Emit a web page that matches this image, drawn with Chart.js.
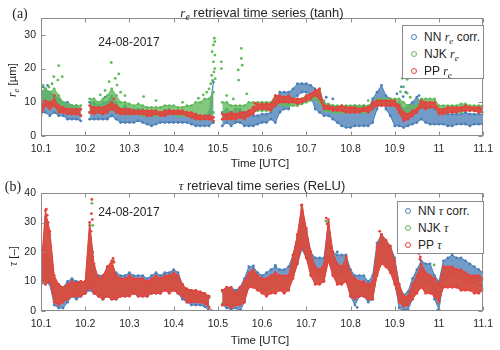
<!DOCTYPE html>
<html><head><meta charset="utf-8">
<script src="https://cdn.jsdelivr.net/npm/chart.js@4.4.0/dist/chart.umd.min.js"></script>
<style>
html,body{margin:0;padding:0;background:#fff;}
#wrap{position:relative;width:500px;height:350px;overflow:hidden;font-family:'Liberation Sans',Arial,sans-serif;color:#262626;}
canvas{position:absolute;left:0;}
.t{position:absolute;white-space:nowrap;line-height:1;transform:translate(-50%,-50%);}
.m{font-family:'Liberation Serif','Times New Roman',serif;font-style:italic;}
.sub{font-size:0.75em;position:relative;top:0.3em;}
.pl{font-family:'Liberation Serif','Times New Roman',serif;font-size:14px;}
.leg{position:absolute;border:1px solid #8c8c8c;background:#fff;}
.row{position:absolute;white-space:nowrap;font-size:12px;line-height:1;transform:translateY(-50%);}
.dot{position:absolute;width:4px;height:4px;border:1px solid;border-radius:50%;transform:translate(-50%,-50%);}
</style></head>
<body><div id="wrap">
<canvas id="ca" width="500" height="175" style="top:0"></canvas>
<canvas id="cb" width="500" height="175" style="top:175px"></canvas>

<div class="t pl" style="left:20px;top:14px">(a)</div>
<div class="t" style="left:262px;top:12px;font-size:13px"><span class="m">r<span class="sub">e</span></span> retrieval time series (tanh)</div>
<div class="t" style="left:129px;top:42px;font-size:12px">24-08-2017</div>
<div class="t" style="left:260px;top:164px;font-size:11.5px">Time [UTC]</div>
<div class="t" style="left:13px;top:80px;font-size:11.5px;transform:translate(-50%,-50%) rotate(-90deg)"><span class="m">r<span class="sub">e</span></span> [µm]</div>
<div class="leg" style="left:402px;top:25px;width:80px;height:52px">
  <span class="dot" style="left:11px;top:11px;border-color:#4a7fb8"></span><span class="row" style="left:21px;top:11px">NN <span class="m">r<span class="sub">e</span></span> corr.</span>
  <span class="dot" style="left:11px;top:28px;border-color:#5fba58"></span><span class="row" style="left:21px;top:28px">NJK <span class="m">r<span class="sub">e</span></span></span>
  <span class="dot" style="left:11px;top:45px;border-color:#e8403e"></span><span class="row" style="left:21px;top:45px">PP <span class="m">r<span class="sub">e</span></span></span>
</div>

<div class="t pl" style="left:13px;top:187px">(b)</div>
<div class="t" style="left:262px;top:185px;font-size:13px"><span class="m">τ</span> retrieval time series (ReLU)</div>
<div class="t" style="left:129px;top:212px;font-size:12px">24-08-2017</div>
<div class="t" style="left:260px;top:341px;font-size:11.5px">Time [UTC]</div>
<div class="t" style="left:14px;top:256px;font-size:11.5px;transform:translate(-50%,-50%) rotate(-90deg)"><span class="m">τ</span> [–]</div>
<div class="leg" style="left:397px;top:201px;width:85px;height:51px">
  <span class="dot" style="left:10px;top:9px;border-color:#4a7fb8"></span><span class="row" style="left:20px;top:9px">NN <span class="m">τ</span> corr.</span>
  <span class="dot" style="left:10px;top:26px;border-color:#5fba58"></span><span class="row" style="left:20px;top:26px">NJK <span class="m">τ</span></span>
  <span class="dot" style="left:10px;top:43px;border-color:#e8403e"></span><span class="row" style="left:20px;top:43px">PP <span class="m">τ</span></span>
</div>
</div>
<script>
// ---- data ----
const times = [10.10,10.11,10.12,10.13,10.14,10.15,10.16,10.17,10.18,10.19,
10.20,10.21,10.22,10.23,10.24,10.25,10.26,10.27,10.28,10.29,
10.30,10.31,10.32,10.33,10.34,10.35,10.36,10.37,10.38,10.39,
10.40,10.41,10.42,10.43,10.44,10.45,10.46,10.47,10.48,10.49,
10.50,10.51,10.52,10.53,10.54,10.55,10.56,10.57,10.58,10.59,
10.60,10.61,10.62,10.63,10.64,10.65,10.66,10.67,10.68,10.69,
10.70,10.71,10.72,10.73,10.74,10.75,10.76,10.77,10.78,10.79,
10.80,10.81,10.82,10.83,10.84,10.85,10.86,10.87,10.88,10.89,
10.90,10.91,10.92,10.93,10.94,10.95,10.96,10.97,10.98,10.99,
11.00,11.01,11.02,11.03,11.04,11.05,11.06,11.07,11.08,11.09,11.10];
const xTicks = [10.1,10.2,10.3,10.4,10.5,10.6,10.7,10.8,10.9,11,11.1];
const reTicks = [0,10,20,30];
const tauTicks = [0,10,20,30,40];

// panel (a): r_e cloud lower / upper edges
const reNNlo = [7,7,6,7,6,6,5,5,5,4.5, null,5,5,5,5,5,6,5,4,4, 4,4,4.5,4,3.5,3,3.5,4,4,4,
 4,4,4,4,3.5,3,3,3,3,4, null,3,4,3,4,4,3,3,3,3.5, 4,4,5,4,7,8,8,11,12,13,
 13,12,8,7,6,6,5,4,3,2.5, 2.5,3,3,3,3,4,8,11,8,6, 3,3,2.5,3,3.5,4,5,4,3.5,3.5,
 3.5,3.5,3,3,3.5,3.5,3.5,3,3.5,3.5,3.5];
const reNNhi = [13,14,13,12,11,10,10,9,9,8, null,10,10,9,10,10,12,10,8,9, 8,8,8,8,7,7,7,7,7.5,8,
 7,7,7,7,6,6,6,6,7,16, null,7,8,7,8,8,7,7,6,6, 6.5,6.5,7,10,13,13,13,14,15.5,15.5,
 15.5,15,14,12,10,9,9,8.5,8,8, 8,9,8.5,9,8,11,13,15,12,11, 9,10,8,9,10,11.5,10,9,8.5,8,
 7,7,6.5,6.5,6.5,6.5,7,6.5,6.5,6.5,6.5];
const reNJKlo = [8,9,8,9,7,7,7,6.5,6.5,6, null,7,7,7,7,7,8,7,7,6.5, 6.5,6.5,6.5,6,6,6,6,6,6.5,6.5,
 6.5,6,6,6,5.5,5,5,5,5,7, null,5,5,5,5,5.5,5,6,7,7.5, 7.5,7.5,7.5,9,9.5,9,9,9,9,9.5,
 10,10.5,11,10,7.5,7.5,7,7,7,7, 7,7,7,7,7,8,9,9,9,9, 9,7,6,6,6.5,7,8.5,8.5,8.5,8.5,
 6.5,6.5,7,7,7,7,7.5,7.5,7.5,7,7];
const reNJKhi = [13,14,13,14,12,10,9.5,9,9,9, null,11,11,10,11,12,14,12,10,10, 9.5,9,9.5,9,8.5,8.5,8.5,8.5,9,9,
 9,8.5,8.5,9,9,10,10,11,11,13, null,10,10,9,9,9,9,10,10,10, 10,10,10,12,12,11.5,11.5,11,11,11,
 12,12.5,13,14,9.5,9.5,9,9,9,9, 9,9,9,9,9,10,11,11,11,11, 11,11,10,9,9,9,11,11,11,11,
 9,9,9,9,9,9.5,9.5,9,9,9,9];
const rePPlo = [6,9,8,9,7,7,6.5,6.5,6.5,6, null,7,6.5,7,6.5,7,8,7,6.5,6.5, 6.5,6.5,6.5,6.5,6,6,6.5,6,6,6.5,
 6.5,6.5,6.5,6,5.5,5,5,5,5,4.5, null,5,5,5,5,5.5,5,6,6.5,8, 8,8,7.5,9,10,10,10,10,9.5,10,
 10.5,11,12,11,8,8,7.5,7.5,7.5,7, 7,7,7,7.5,7,8,9,9,9,9, 9,7,4.5,5,6,7,8.5,8,8.5,8.5,
 6.5,6.5,7,7,7,7.5,7.5,7.5,7.5,7,7];
const rePPhi = [10,10.5,10,11,9,8.5,8,8,8,8, null,9,8.5,8.5,8.5,9,10,9,8,8, 8,7.5,7.5,7.5,7.5,7.5,7.5,7,7.5,7.5,
 7.5,7.5,7.5,7,7,6.5,6,6,6,5.5, null,6.5,6.5,7,6.5,7,7,7.5,8.5,9.5, 9.5,9.5,9.5,12,12,11.5,12,11,11,11,
 12,12.5,13.5,14,9,9,8.5,8.5,9,8.5, 8.5,8.5,8,8.5,8.5,10,10.5,10.5,10.5,10.5, 10.5,9,7,6.5,7.5,8,10.5,10,10,10,
 8,8,8.5,8.5,8.5,8.5,9,8.5,8.5,8.5,8.5];
// scattered single points [time, value]
const reNNout = [[10.105,14.5],[10.115,15],[10.245,11.5],[10.27,12],[10.6,9],[10.635,11],[10.745,11.5],[10.76,11],
 [10.905,12.5],[10.915,14.6],[10.919,11.7],[10.925,13],[10.955,12]];
const reNJKout = [[10.105,15],[10.118,14.5],[10.125,15.5],[10.129,17.6],[10.138,16.6],[10.14,20.9],[10.148,17.6],
 [10.234,12.2],[10.245,13.5],[10.254,16.1],[10.259,21.8],[10.268,17.1],[10.272,15.1],[10.276,18.4],[10.28,13],[10.29,12],
 [10.332,11.7],[10.36,10.5],[10.42,10],[10.456,11.2],[10.467,12.2],[10.475,13],[10.48,14],[10.484,15.5],[10.486,18],[10.487,25],
 [10.488,16.5],[10.49,22],[10.49,27],[10.491,19],[10.492,29],[10.493,28],[10.493,24],[10.493,20],[10.494,17],[10.508,22],[10.508,20],[10.52,12],[10.535,11],
 [10.546,19.6],[10.547,16.6],[10.553,26],[10.553,23],[10.555,21],[10.565,12.5],[10.74,10.5],[10.84,10.5],
 [10.913,13.1],[10.917,17.1],[10.92,14.6],[10.928,12.7],[10.928,16.8],[10.935,11.5],[10.95,10.5]];
const rePPout = [[10.13,12],[10.265,11],[10.584,9.7]];

// panel (b): tau cloud lower / upper edges
const tauNNlo = [9,10,9,2,1,1,3,5,4,5, 6,7,6,5,4,5,4,4,5,5, 6,6,5,5,5,6,6,6,7,7,
 7,6,4,3,2,2,2,1.5,0,null, null,2,1,0.5,1,0,3,9,9,8, 7,7,8,8,8,8,9,12,16,21,
 18,14,13,12,12,17,13,12,12,11, 5,2,5,5,3,4,13,17,16,14, 10,1,0,0.5,4,8,10,9,9,4,
 0.5,10,11,12,11,11,10,9,9,9,8];
const tauNNhi = [13,20,17,11,9,8,10,11,10,10, 10,22,13,12,12,13,13,13,12,12, 13,12,12,12,11,12,13,12,13,13,
 14,13,9,7,6.5,6,6,5.5,4.5,null, null,7,8,8,7,8,11,15,15,13, 12,13,14,15,14,14,15,19,25,34,
 27,20,18,18,18,30,20,19,19,19, 14,12,12,12,10,12,23,26,24,22, 18,9,5.5,6.5,11,14,17,16,16,12,
 10,17,18,19,18,18,17,16,15,14,13];
const tauNJKlo = [10,10,11,4,3,3.5,4,5,5,5.5, 6,9,7,5.5,4.5,5.5,4.5,4.5,5.5,5.5, 5.5,6.5,5.5,5.5,5.5,6.5,6.5,6.5,7.5,6.5,
 7.5,6.5,5.5,3.5,3.5,3.5,3.5,3,1.5,null, null,2.5,2.5,1.5,2.5,2.5,3.5,8.5,8.5,7.5, 6.5,5.5,6.5,6.5,7.5,6.5,7.5,11.5,16.5,22.5,
 18.5,12.5,9.5,9.5,10.5,17.5,12.5,9.5,9.5,10.5, 5.5,4.5,5.5,5.5,4.5,4.5,12.5,16.5,15.5,13.5, 9.5,3.5,2,2.5,4.5,6.5,8.5,6.5,6.5,5.5,
 3.5,8.5,8.5,8.5,8.5,7.5,7.5,7.5,6.5,6.5,7.5];
const tauNJKhi = [13,32,26,11,9,8,9,9.5,9,9.5, 9.5,29,15,10.5,11.5,14.5,16.5,11.5,10.5,10.5, 11.5,10.5,10.5,10.5,9.5,10.5,11.5,10.5,11.5,11.5,
 12.5,11.5,9,7.5,7,7,6.5,6,5,null, null,6.5,7.5,7.5,6,7.5,9.5,12.5,13.5,11.5, 10.5,10.5,11.5,12.5,11.5,11.5,11.5,18.5,25.5,35,
 27.5,19.5,14.5,13.5,15.5,30,19.5,15.5,14.5,17.5, 12.5,10.5,9.5,9.5,8.5,9.5,21.5,25.5,23.5,21.5, 16.5,8.5,5,5,8.5,11.5,15.5,12.5,11.5,10.5,
 8.5,14.5,14.5,14.5,13.5,13.5,12.5,11.5,11.5,11.5,10.5];
const tauPPlo = [10,9,10,3,2,3,4,5,5,5, 6,8,6,5,4,5,4,4,5,5, 5,6,5,5,5,6,6,6,7,6,
 7,6,5,3,3,3,3,2.5,1,null, null,2,2,1,2,2,3,8,8,7, 6,5,6,6,7,6,7,11,16,22,
 18,12,9,9,10,17,12,9,9,10, 5,4,5,5,4,4,12,16,15,13, 9,3,1.5,2,4,6,8,6,6,5,
 3,8,8,8,8,7,7,7,6,6,7];
const tauPPhi = [14,34,27,12,9,8,9,10,9.5,10, 10,30,16,11,12,15,17,12,11,11, 12,11,11,11,10,11,12,11,12,12,
 13,12,9,7.5,7,7,6.5,6,5,null, null,7,8,8,6,8,10,13,14,12, 11,11,12,13,12,12,12,19,26,36,
 28,20,15,14,16,31,20,16,15,18, 13,11,10,10,9,10,22,26,24,22, 17,9,5,5,9,12,16,13,12,11,
 9,15,15,15,14,14,13,12,12,12,11];
const tauNNout = [[10.108,15],[10.112,22],[10.212,24],[10.217,20],[10.485,0.2],[10.552,0.3],[10.58,15.3],[10.63,15.5],
 [10.77,20],[10.815,1.2],[10.922,0.3],[10.997,0.3],[11.03,19.6]];
const tauNJKout = [[10.111,31],[10.117,26],[10.12,20],[10.215,36.5],[10.217,29],[10.264,17],[10.61,9],[10.69,34.8],
 [10.744,30.5],[10.77,11],[10.989,15.6]];
const tauPPout = [[10.112,34.5],[10.113,29],[10.114,32.5],[10.116,30],[10.118,27],[10.213,27],[10.214,33],[10.215,37.8],
 [10.216,31],[10.251,15],[10.263,17.8],[10.265,16.5],[10.689,35.8],[10.691,34],[10.745,31.5],[10.747,29.5],[10.79,18.5],
 [10.866,27],[10.955,19.5],[10.957,17.5],[10.958,18.3]];

// ---- styles ----
const C_NN = '#4a7fb8', C_NJK = '#5fba58', C_PP = '#e8403e';
const F_NN = 'rgba(74,127,184,0.78)', F_NJK = 'rgba(95,186,88,0.78)', F_PP = 'rgba(232,64,62,0.85)';
const FONT = "'Liberation Sans', Arial, sans-serif";

function pts(arr){ return times.map((t,i)=>({x:t,y:arr[i]})); }
function opts(arr){ return arr.map(p=>({x:p[0],y:p[1]})); }
function band(lo,hi,col,fcol,order){
  const base = {borderColor:col,borderWidth:1,pointRadius:1.4,pointBorderWidth:0,pointBackgroundColor:col,
                spanGaps:false,tension:0,order:order};
  return [
    Object.assign({data:pts(hi),fill:false,backgroundColor:col},base),
    Object.assign({data:pts(lo),fill:'-1',backgroundColor:fcol},base)
  ];
}
function scat(arr,col,order){
  return {data:opts(arr),showLine:false,pointRadius:1.4,pointBorderWidth:0,pointBackgroundColor:col,
          borderColor:col,backgroundColor:col,order:order};
}

const frame = {
  id:'frame',
  afterDraw(chart){
    const {ctx, chartArea:a, scales} = chart;
    ctx.save();
    ctx.strokeStyle = '#8c8c8c'; ctx.lineWidth = 1;
    const L = Math.round(a.left)+0.5, R = Math.round(a.right)-0.5, T = Math.round(a.top)+0.5, B = Math.round(a.bottom)-0.5;
    ctx.strokeRect(L, T, R-L, B-T);
    ctx.beginPath();
    scales.x.ticks.forEach(tk=>{
      const px = Math.round(scales.x.getPixelForValue(tk.value))+0.5;
      ctx.moveTo(px,B); ctx.lineTo(px,B-4);
      ctx.moveTo(px,T); ctx.lineTo(px,T+4);
    });
    scales.y.ticks.forEach(tk=>{
      const py = Math.round(scales.y.getPixelForValue(tk.value))+0.5;
      ctx.moveTo(L,py); ctx.lineTo(L+4,py);
      ctx.moveTo(R,py); ctx.lineTo(R-4,py);
    });
    ctx.stroke();
    ctx.restore();
  }
};

function makeChart(id, ymax, yTicks, d){
  const datasets = [].concat(
    band(d.pplo,d.pphi,C_PP,F_PP,2), [scat(d.ppout,C_PP,1)],
    band(d.njklo,d.njkhi,C_NJK,F_NJK,4), [scat(d.njkout,C_NJK,3)],
    band(d.nnlo,d.nnhi,C_NN,F_NN,6), [scat(d.nnout,C_NN,5)]
  );
  return new Chart(document.getElementById(id), {
    type:'line',
    data:{datasets},
    plugins:[frame],
    options:{
      responsive:false, animation:false, events:[],
      layout:{padding:{left:0,right:12,top:18,bottom:0}},
      plugins:{legend:{display:false},tooltip:{enabled:false},
               filler:{propagate:false}},
      scales:{
        x:{type:'linear',min:10.1,max:11.1,
           grid:{display:false,drawTicks:false},border:{display:false},
           afterBuildTicks:(s)=>{ s.ticks = xTicks.map(v=>({value:v})); },
           ticks:{callback:(v)=>String(v),padding:7,color:'#262626',font:{family:FONT,size:10.5},maxRotation:0,autoSkip:false},
           afterFit:(s)=>{ s.height = 39; }},
        y:{type:'linear',min:0,max:ymax,
           grid:{display:false,drawTicks:false},border:{display:false},
           afterBuildTicks:(s)=>{ s.ticks = yTicks.map(v=>({value:v})); },
           ticks:{callback:(v)=>String(v),padding:5,color:'#262626',font:{family:FONT,size:10.5}},
           afterFit:(s)=>{ s.width = 41; }}
      }
    }
  });
}

makeChart('ca', 35, reTicks, {nnlo:reNNlo,nnhi:reNNhi,njklo:reNJKlo,njkhi:reNJKhi,pplo:rePPlo,pphi:rePPhi,
  nnout:reNNout,njkout:reNJKout,ppout:rePPout});
makeChart('cb', 40, tauTicks, {nnlo:tauNNlo,nnhi:tauNNhi,njklo:tauNJKlo,njkhi:tauNJKhi,pplo:tauPPlo,pphi:tauPPhi,
  nnout:tauNNout,njkout:tauNJKout,ppout:tauPPout});
</script>
</body></html>
